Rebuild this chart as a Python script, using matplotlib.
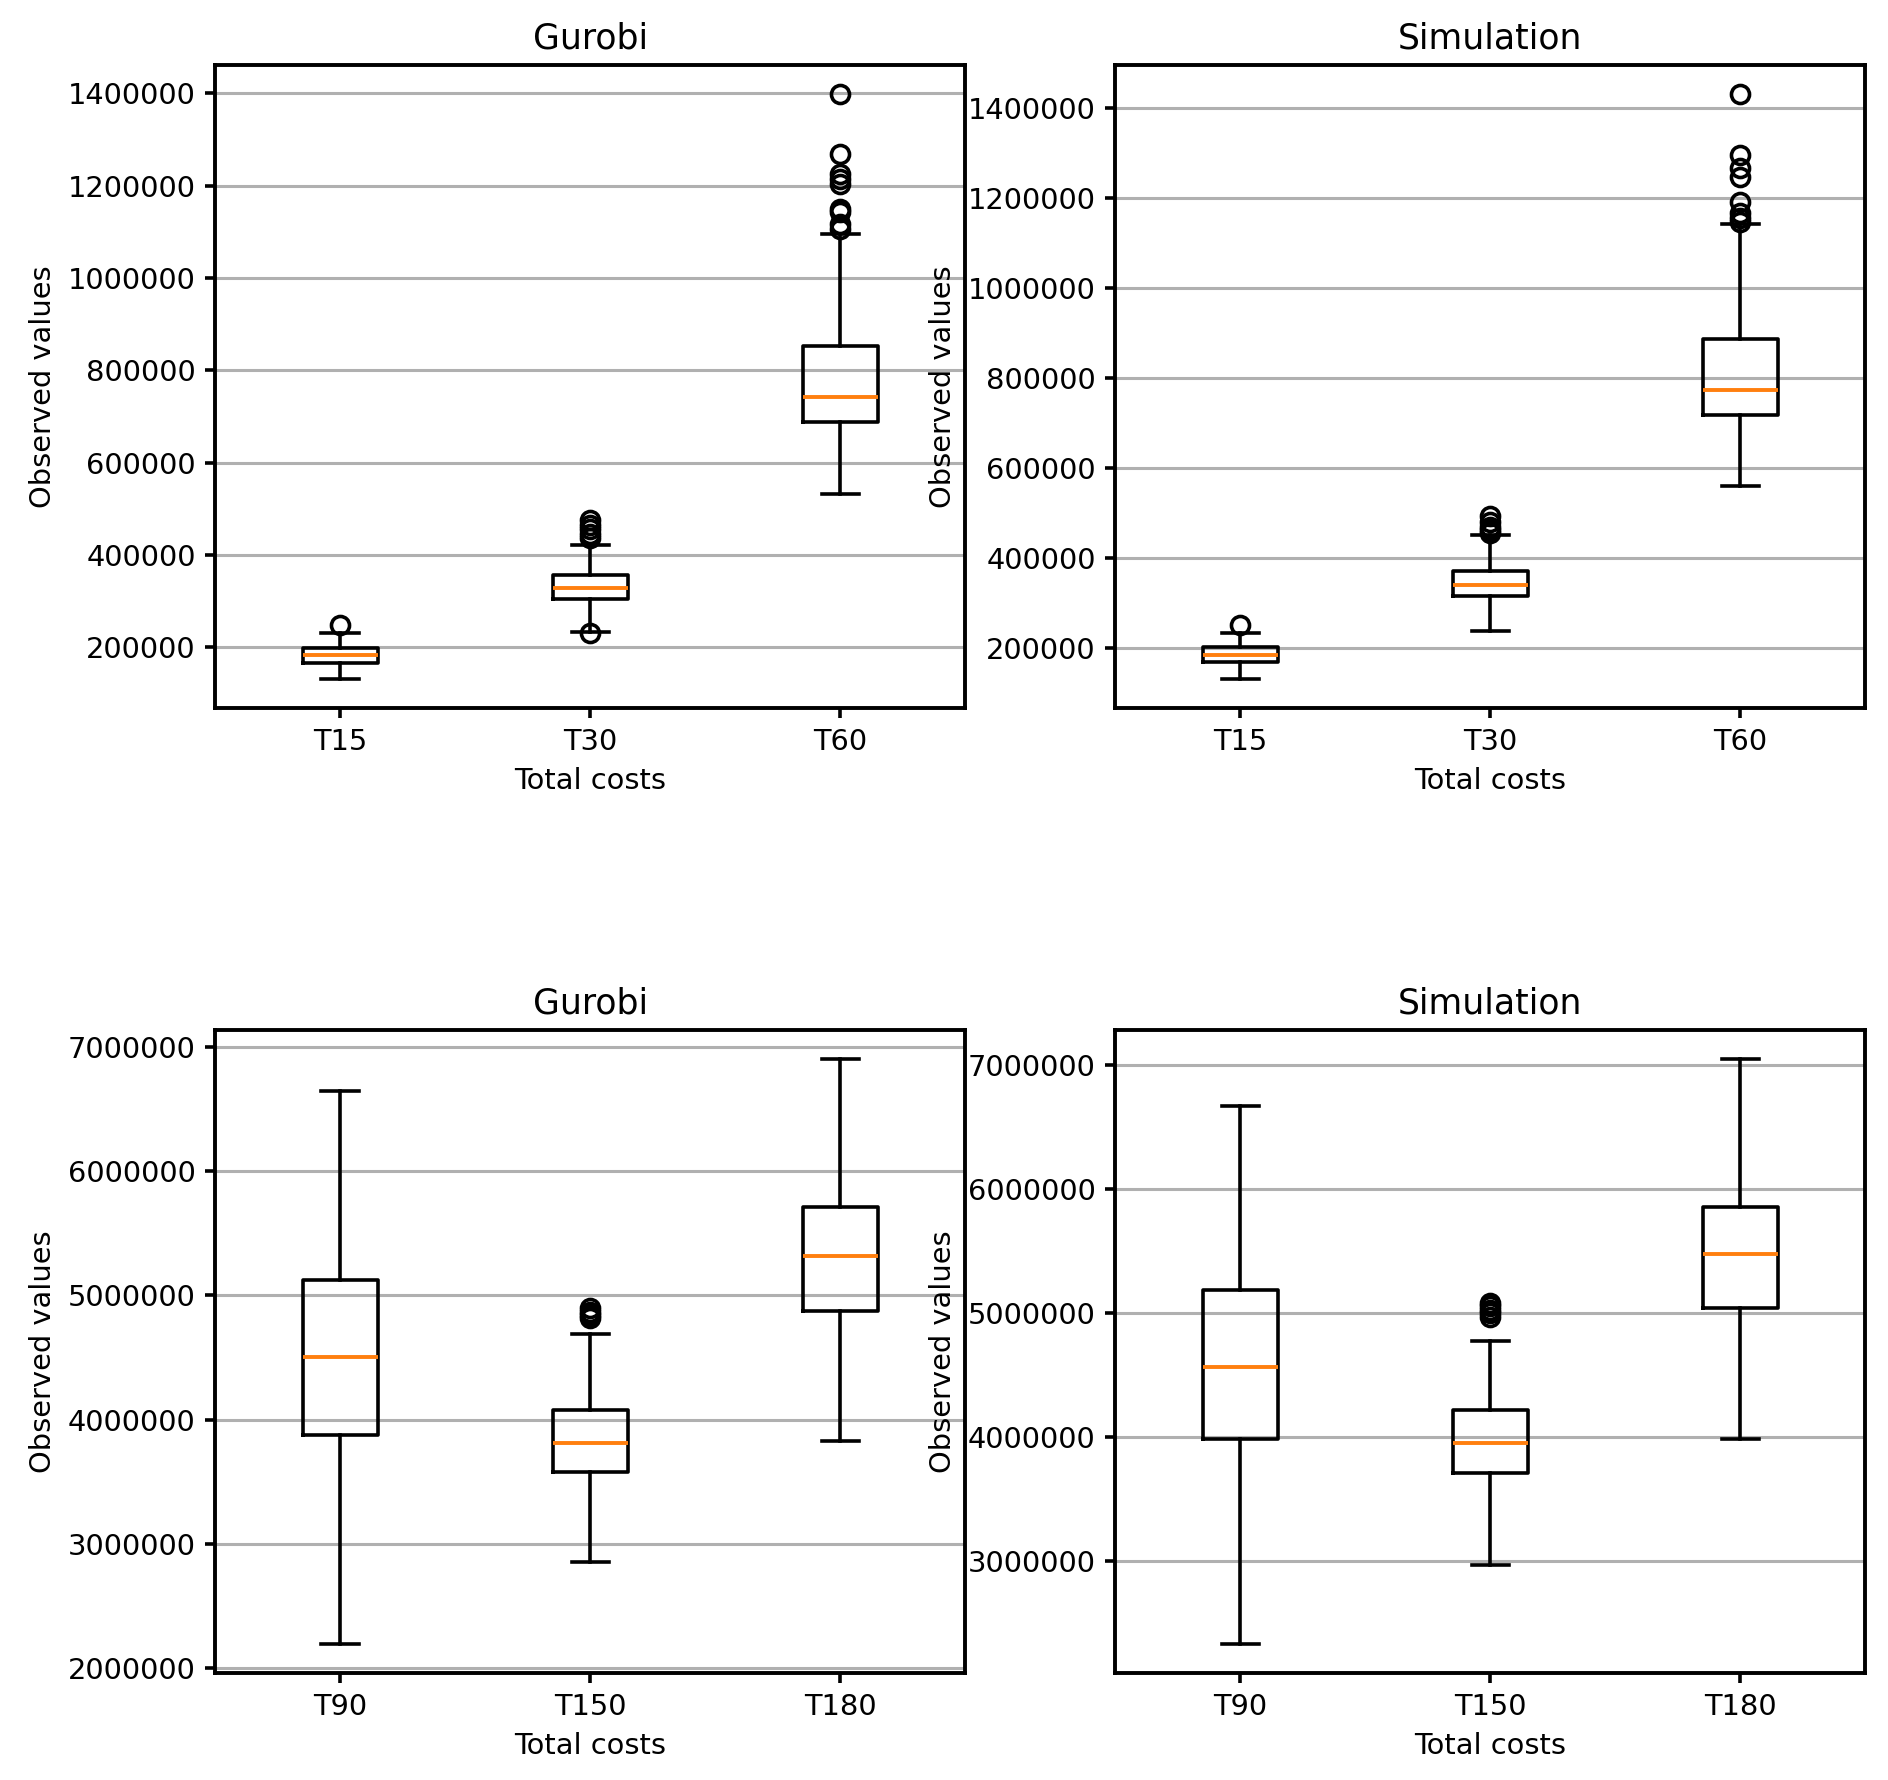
import matplotlib
matplotlib.use("Agg")
import matplotlib.pyplot as plt

plt.rcParams['font.family'] = ['DejaVu Sans']
plt.rcParams['font.size'] = 10.4

# ---- top row: T15 / T30 / T60 ----
labels_top = ["T15", "T30", "T60"]

gurobi_top_whislo = [131000, 232500, 531800]
gurobi_top_q1 = [166000, 305000, 687500]
gurobi_top_med = [182000, 328000, 741000]
gurobi_top_q3 = [197700, 356700, 853400]
gurobi_top_whishi = [230700, 421700, 1095000]
gurobi_top_fliers = [
    [247700],
    [230400, 436000, 445000, 455000, 465000, 475800],
    [1105000, 1116500, 1142000, 1149000, 1203000, 1214600, 1225500, 1269000, 1398000],
]

sim_top_whislo = [131500, 238400, 560100]
sim_top_q1 = [169800, 316200, 716900]
sim_top_med = [184900, 341300, 772700]
sim_top_q3 = [202300, 371800, 886500]
sim_top_whishi = [233700, 451800, 1142000]
sim_top_fliers = [
    [251100],
    [456000, 462000, 468000, 480000, 494000],
    [1146000, 1154200, 1165900, 1191000, 1246500, 1265000, 1294600, 1429700],
]

# ---- bottom row: T90 / T150 / T180 ----
labels_bottom = ["T90", "T150", "T180"]

gurobi_bot_whislo = [2194000, 2852300, 3831200]
gurobi_bot_q1 = [3877600, 3582300, 4877600]
gurobi_bot_med = [4506300, 3814300, 5320700]
gurobi_bot_q3 = [5122400, 4075900, 5713100]
gurobi_bot_whishi = [6645600, 4692000, 6903000]
gurobi_bot_fliers = [
    [],
    [4820000, 4845000, 4870000, 4900000],
    [],
]

sim_bot_whislo = [2332000, 2966200, 3989400]
sim_bot_q1 = [3989400, 3710400, 5042300]
sim_bot_med = [4568700, 3955600, 5482000]
sim_bot_q3 = [5190300, 4217800, 5858400]
sim_bot_whishi = [6670200, 4780100, 7050700]
sim_bot_fliers = [
    [],
    [4973000, 5000000, 5030000, 5060000, 5080000],
    [],
]


def make_stats(labels, whislo, q1, med, q3, whishi, fliers):
    stats = []
    for i in range(len(labels)):
        stats.append({
            "label": labels[i],
            "whislo": whislo[i],
            "q1": q1[i],
            "med": med[i],
            "q3": q3[i],
            "whishi": whishi[i],
            "fliers": fliers[i],
        })
    return stats


def draw_panel(ax, stats, title):
    ax.bxp(stats,
           boxprops=dict(linewidth=1.3, color="black"),
           whiskerprops=dict(linewidth=1.3, color="black"),
           capprops=dict(linewidth=1.3, color="black"),
           medianprops=dict(linewidth=1.4, color="#ff7f0e"),
           flierprops=dict(marker="o", markerfacecolor="none",
                           markeredgecolor="black", markersize=6.5,
                           markeredgewidth=1.3))
    ax.yaxis.grid(True, color="#b0b0b0", linewidth=1.1)
    ax.ticklabel_format(axis="y", style="plain", useOffset=False)
    ax.set_title(title)
    ax.set_xlabel("Total costs")
    ax.set_ylabel("Observed values")
    for sp in ax.spines.values():
        sp.set_linewidth(1.4)
    ax.tick_params(width=1.3, length=3.5)


fig, axes = plt.subplots(2, 2, figsize=(9.44, 8.9), dpi=200)
fig.subplots_adjust(left=0.114, right=0.988, top=0.9635, bottom=0.060,
                    wspace=0.2, hspace=0.5)

draw_panel(axes[0, 0], make_stats(labels_top, gurobi_top_whislo, gurobi_top_q1,
                                  gurobi_top_med, gurobi_top_q3,
                                  gurobi_top_whishi, gurobi_top_fliers), "Gurobi")
draw_panel(axes[0, 1], make_stats(labels_top, sim_top_whislo, sim_top_q1,
                                  sim_top_med, sim_top_q3,
                                  sim_top_whishi, sim_top_fliers), "Simulation")
draw_panel(axes[1, 0], make_stats(labels_bottom, gurobi_bot_whislo, gurobi_bot_q1,
                                  gurobi_bot_med, gurobi_bot_q3,
                                  gurobi_bot_whishi, gurobi_bot_fliers), "Gurobi")
draw_panel(axes[1, 1], make_stats(labels_bottom, sim_bot_whislo, sim_bot_q1,
                                  sim_bot_med, sim_bot_q3,
                                  sim_bot_whishi, sim_bot_fliers), "Simulation")

fig.savefig("out.png", dpi=200)
